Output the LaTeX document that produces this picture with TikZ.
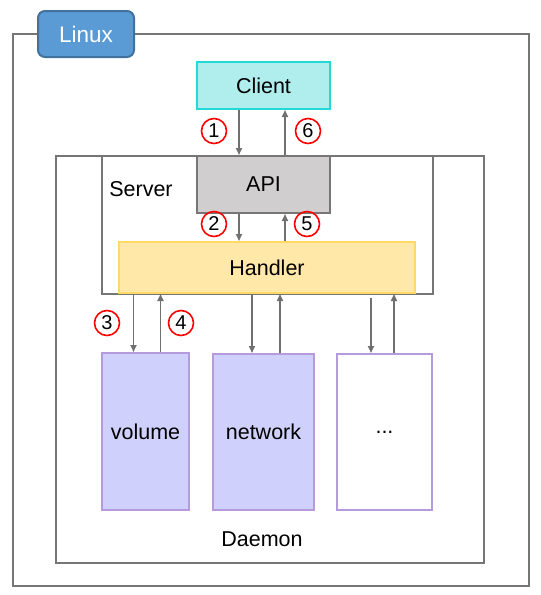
\documentclass[tikz,border=0pt]{standalone}
\usepackage{fontspec}
\setmainfont{Liberation Sans}
\usetikzlibrary{arrows.meta}
\definecolor{frame}{HTML}{767676}
\definecolor{linuxfill}{HTML}{5B9BD5}
\definecolor{linuxdraw}{HTML}{41719C}
\definecolor{clientfill}{HTML}{B0EEEE}
\definecolor{clientdraw}{HTML}{22D8D8}
\definecolor{apifill}{HTML}{D0CECE}
\definecolor{handlerfill}{HTML}{FFE8A8}
\definecolor{handlerdraw}{HTML}{FFD966}
\definecolor{modfill}{HTML}{D0D0FC}
\definecolor{moddraw}{HTML}{B49CDC}
\definecolor{circred}{HTML}{FF0000}
\definecolor{arrgray}{HTML}{707070}
\begin{document}
\begin{tikzpicture}[x=1pt,y=-1pt,
  every node/.style={font=\fontsize{21.5}{25}\selectfont},
  box/.style={rectangle,draw,line width=2pt,inner sep=0pt,anchor=north west},
  frm/.style={box,draw=frame},
  num/.style={circle,draw=circred,line width=1.6pt,minimum size=25pt,inner sep=0pt,font=\fontsize{20}{22}\selectfont},
  arr/.style={draw=arrgray,line width=1.6pt,-{Triangle[length=7pt,width=6pt]}},
  ]
\useasboundingbox (0,0) rectangle (541,595);
% frames
\node[frm,minimum width=516pt,minimum height=552pt] (linux) at (12,33) {};
\node[box,draw=linuxdraw,fill=linuxfill,rounded corners=7pt,minimum width=96pt,minimum height=46pt] (tab) at (37,10) {};
\node[text=white,font=\fontsize{22.5}{26}\selectfont] (tabtext) at (tab.center) {Linux};
\node[frm,minimum width=428pt,minimum height=407pt] (daemon) at (55,155) {};
\node[frm,minimum width=331pt,minimum height=138pt] (server) at (101,155) {};
\node (servertext) at (141,189) {Server};
\node (daemontext) at (262,539) {Daemon};
% main boxes
\node[box,draw=clientdraw,fill=clientfill,minimum width=133pt,minimum height=47pt] (client) at (196,61) {};
\node at (client.center) {Client};
\node[box,draw=frame,fill=apifill,minimum width=133pt,minimum height=57pt] (api) at (196,155) {};
\node at (api.center) {API};
\node[box,draw=handlerdraw,fill=handlerfill,minimum width=296pt,minimum height=51pt] (handler) at (118,241) {};
\node at (handler.center) {Handler};
\node[box,draw=moddraw,fill=modfill,minimum width=87pt,minimum height=157pt] (volume) at (101,352) {};
\node at (volume.center) {volume};
\node[box,draw=moddraw,fill=modfill,minimum width=101pt,minimum height=156pt] (network) at (212,353) {};
\node at (network.center) {network};
\node[box,draw=moddraw,fill=white,minimum width=95pt,minimum height=156pt] (other) at (336,353) {};
\node at (other.center) {...};
% arrows
\draw[arr] ([xshift=-24.5pt]client.south) -- ([xshift=-24.5pt]client.south |- api.north);
\draw[arr] ([xshift=21.5pt]client.south |- api.north) -- ([xshift=21.5pt]client.south);
\draw[arr] ([xshift=-24.5pt]api.south) -- ([xshift=-24.5pt]api.south |- handler.north);
\draw[arr] ([xshift=21.5pt]api.south |- handler.north) -- ([xshift=21.5pt]api.south);
\draw[arr] ([xshift=-12pt]volume.north |- handler.south) -- ([xshift=-12pt]volume.north);
\draw[arr] ([xshift=15pt]volume.north) -- ([xshift=15pt]volume.north |- handler.south);
\draw[arr] ([xshift=-11.5pt]network.north |- handler.south) -- ([xshift=-11.5pt]network.north);
\draw[arr] ([xshift=16.5pt]network.north) -- ([xshift=16.5pt]network.north |- handler.south);
\draw[arr] ([xshift=-13.5pt,yshift=-4pt]other.north |- handler.south) -- ([xshift=-13.5pt]other.north);
\draw[arr] ([xshift=9.5pt]other.north) -- ([xshift=9.5pt]other.north |- handler.south);
% numbers
\node[num] (n1) at (214,131) {1};
\node[num] (n6) at (308,131) {6};
\node[num] (n2) at (214,224) {2};
\node[num] (n5) at (307,224) {5};
\node[num] (n3) at (107,323) {3};
\node[num] (n4) at (181,323) {4};
\end{tikzpicture}
\end{document}
